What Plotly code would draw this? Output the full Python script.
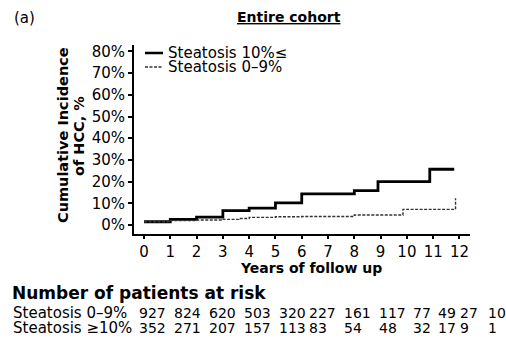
import plotly.graph_objects as go

# ---- data ----
years_hi = [0, 1, 2, 3, 4, 5, 6, 8, 8.9, 10.87, 11.8]
cuminc_hi = [1.5, 2.6, 3.6, 6.6, 7.8, 10.2, 14.3, 15.8, 20.0, 25.7, 25.7]

years_lo = [0, 1, 2, 3, 3.6, 4, 5, 6, 8, 9.85, 11.85, 11.85]
cuminc_lo = [1.5, 2.0, 2.3, 2.6, 3.0, 3.5, 3.8, 3.9, 4.6, 7.2, 7.4, 12.3]

x_ticks = list(range(0, 13))
y_ticks = [0, 10, 20, 30, 40, 50, 60, 70, 80]
y_ticklabels = [f"{v}%" for v in y_ticks]

series_names = ["Steatosis 10%≤", "Steatosis 0–9%"]
risk_labels = ["Steatosis 0–9%", "Steatosis ≥10%"]
risk_lo = [927, 824, 620, 503, 320, 227, 161, 117, 77, 49, 27, 10]
risk_hi = [352, 271, 207, 157, 113, 83, 54, 48, 32, 17, 9, 1]

# ---- layout geometry (pixels) ----
W, H = 506, 341
L, R, T, B = 134, 36, 45, 107
PW, PH = W - L - R, H - T - B


def px(x):
    return (x - L) / PW


def py(y):
    return (H - B - y) / PH


FONT = "DejaVu Sans"
DOT_COLOR = "#333333"

fig = go.Figure()
fig.add_trace(go.Scatter(x=years_hi, y=cuminc_hi, mode="lines", line_shape="hv",
                         line=dict(color="black", width=2.8), name=series_names[0],
                         showlegend=False))
fig.add_trace(go.Scatter(x=years_lo, y=cuminc_lo, mode="lines", line_shape="hv",
                         line=dict(color=DOT_COLOR, width=1.4, dash="3px,1.5px"),
                         name=series_names[1], showlegend=False))

ann = []
shapes = []

# title texts
ann.append(dict(text="(a)", x=px(12), y=py(18), xanchor="left", yanchor="middle",
                font=dict(family=FONT, size=15, color="black")))
ann.append(dict(text="<b><u>Entire cohort</u></b>", x=px(289), y=py(17), xanchor="center",
                yanchor="middle", font=dict(family=FONT, size=14, color="black")))

# y-axis title (two lines)
ann.append(dict(text="<b>Cumulative Incidence</b>", x=px(63), y=py(135), textangle=-90,
                xanchor="center", yanchor="middle",
                font=dict(family=FONT, size=14.5, color="black")))
ann.append(dict(text="<b>of HCC, %</b>", x=px(79), y=py(136), textangle=-90,
                xanchor="center", yanchor="middle",
                font=dict(family=FONT, size=14.5, color="black")))

# x-axis title
ann.append(dict(text="<b>Years of follow up</b>", x=px(311), y=py(268), xanchor="center",
                yanchor="middle", font=dict(family=FONT, size=14, color="black")))

# legend (manual)
leg_y = [53, 67]
shapes.append(dict(type="line", xref="paper", yref="paper", x0=px(145), x1=px(163),
                   y0=py(leg_y[0]), y1=py(leg_y[0]), line=dict(color="black", width=2.5)))
shapes.append(dict(type="line", xref="paper", yref="paper", x0=px(145), x1=px(163),
                   y0=py(leg_y[1]), y1=py(leg_y[1]),
                   line=dict(color=DOT_COLOR, width=1.3, dash="3px,1.5px")))
for name, yy in zip(series_names, leg_y):
    ann.append(dict(text=name, x=px(166), y=py(yy), xanchor="left", yanchor="middle",
                    font=dict(family=FONT, size=15, color="black")))

# risk table
ann.append(dict(text="<b>Number of patients at risk</b>", x=px(10), y=py(293),
                xanchor="left", yanchor="middle",
                font=dict(family=FONT, size=17, color="black")))
col_x = [137, 172, 207, 242, 277, 307, 342, 377, 411, 436, 458, 486]
row_y = [313, 328]
for lab, vals, yy in zip(risk_labels, [risk_lo, risk_hi], row_y):
    ann.append(dict(text=lab, x=px(11), y=py(yy), xanchor="left", yanchor="middle",
                    font=dict(family=FONT, size=15, color="black")))
    for v, cx in zip(vals, col_x):
        ann.append(dict(text=str(v), x=px(cx), y=py(yy), xanchor="left", yanchor="middle",
                        font=dict(family=FONT, size=14, color="black")))

for a in ann:
    a.update(xref="paper", yref="paper", showarrow=False)

fig.update_layout(
    width=W, height=H,
    margin=dict(l=L, r=R, t=T, b=B, pad=0),
    paper_bgcolor="white", plot_bgcolor="white",
    annotations=ann, shapes=shapes,
    xaxis=dict(range=[-0.38, 12.4], tickmode="array", tickvals=x_ticks,
               ticktext=[str(v) for v in x_ticks], showgrid=False, zeroline=False,
               showline=True, linecolor="black", linewidth=2, ticks="outside",
               ticklen=3, tickwidth=1.5, tickcolor="black",
               tickfont=dict(family=FONT, size=15, color="black")),
    yaxis=dict(range=[-4.15, 82.95], tickmode="array", tickvals=y_ticks,
               ticktext=y_ticklabels, showgrid=False,
               zeroline=False, showline=True, linecolor="black", linewidth=2,
               ticks="outside", ticklen=4, tickwidth=1.5, tickcolor="black",
               tickfont=dict(family=FONT, size=15, color="black")),
    showlegend=False,
)

fig.write_html("out.html")
